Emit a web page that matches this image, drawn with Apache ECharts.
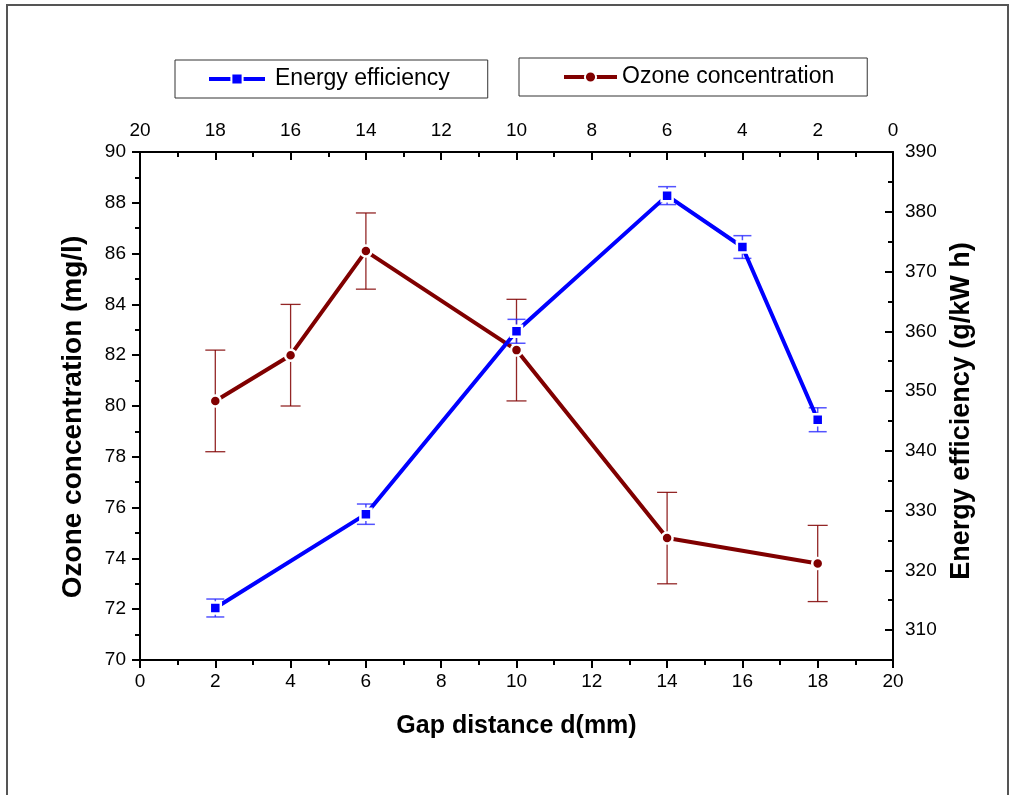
<!DOCTYPE html>
<html>
<head>
<meta charset="utf-8">
<title>Ozone concentration and energy efficiency vs gap distance</title>
<script src="https://cdn.jsdelivr.net/npm/echarts@6/dist/echarts.min.js"></script>
<style>
  html, body { margin: 0; padding: 0; background: #ffffff; }
  #chart { width: 1011px; height: 795px; }
</style>
</head>
<body>
<div id="chart"></div>
<script>
// Ozone concentration (mg/l), left axis
const ozoneGap = [2, 4, 6, 10, 14, 18];
const ozoneValues = [80.2, 82.0, 86.1, 82.2, 74.8, 73.8];
const ozoneErrors = [2.0, 2.0, 1.5, 2.0, 1.8, 1.5];

// Energy efficiency (g/kW h), right axis
const effGap = [2, 6, 10, 14, 16, 18];
const effValues = [313.7, 329.4, 360.0, 382.7, 374.1, 345.2];
const effErrors = [1.5, 1.7, 2.0, 1.5, 1.9, 2.0];

// Axis ranges and tick values
const gapTicks = [0, 20, 2];
const ozoneRange = [70, 90, 2];
const effRange = [305, 390];
const effMajorTicks = [310, 320, 330, 340, 350, 360, 370, 380, 390];
const effMinorTicks = [315, 325, 335, 345, 355, 365, 375, 385];

const FONT = '"Liberation Sans", Arial, Helvetica, sans-serif';
const BLUE = '#0000ff';
const RED = '#800000';

const pairs = (xs, ys) => xs.map((x, i) => [x, ys[i]]);
const bars = (xs, ys, es) => xs.map((x, i) => [x, ys[i] - es[i], ys[i] + es[i]]);

function errorBarRenderer(color, width, capHalf) {
  return function (params, api) {
    const x = api.value(0);
    const lo = api.coord([x, api.value(1)]);
    const hi = api.coord([x, api.value(2)]);
    const style = { stroke: color, lineWidth: width };
    return {
      type: 'group',
      children: [
        { type: 'line', shape: { x1: lo[0], y1: lo[1], x2: hi[0], y2: hi[1] }, style },
        { type: 'line', shape: { x1: lo[0] - capHalf, y1: lo[1], x2: lo[0] + capHalf, y2: lo[1] }, style },
        { type: 'line', shape: { x1: hi[0] - capHalf, y1: hi[1], x2: hi[0] + capHalf, y2: hi[1] }, style }
      ]
    };
  };
}

const axisLineStyle = { lineStyle: { color: '#000', width: 2 } };
const labelStyle = { color: '#000', fontSize: 19, fontFamily: FONT };
const nameStyle = { color: '#000', fontSize: 25, fontWeight: 'bold', fontFamily: FONT };
const legendText = { fontSize: 23, color: '#000', fontFamily: FONT, lineHeight: 26 };

const chart = echarts.init(document.getElementById('chart'), null, { renderer: 'canvas' });

chart.setOption({
  backgroundColor: '#ffffff',
  animation: false,
  textStyle: { fontFamily: FONT },
  grid: { left: 140, right: 118, top: 152, bottom: 135 },
  graphic: [
    {
      type: 'rect',
      shape: { x: 7, y: 5, width: 1001, height: 810 },
      style: { fill: 'none', stroke: '#555', lineWidth: 2 },
      z: -10
    }
  ],
  legend: [
    {
      data: ['Energy efficiency'],
      left: 175, top: 60,
      padding: [6, 38, 6, 32],
      borderColor: '#333', borderWidth: 1,
      itemWidth: 56, itemHeight: 14,
      lineStyle: { width: 4 },
      selectedMode: false,
      textStyle: Object.assign({ padding: [0, 0, 0, 5] }, legendText)
    },
    {
      data: ['Ozone concentration'],
      left: 519, top: 58,
      padding: [6, 33, 6, 43],
      borderColor: '#333', borderWidth: 1,
      itemWidth: 53, itemHeight: 14,
      lineStyle: { width: 4 },
      selectedMode: false,
      textStyle: Object.assign({ padding: [0, 0, 0, 0] }, legendText)
    }
  ],
  xAxis: [
    {
      type: 'value', position: 'bottom',
      min: gapTicks[0], max: gapTicks[1], interval: gapTicks[2],
      name: 'Gap distance d(mm)', nameLocation: 'middle', nameGap: 54,
      nameTextStyle: nameStyle,
      axisLine: axisLineStyle,
      axisTick: { show: true, inside: false, length: 8, lineStyle: { color: '#000', width: 2 } },
      minorTick: { show: true, splitNumber: 2, length: 5, lineStyle: { color: '#000', width: 2 } },
      axisLabel: Object.assign({ margin: 12 }, labelStyle),
      splitLine: { show: false }
    },
    {
      type: 'value', position: 'top', inverse: true,
      min: gapTicks[0], max: gapTicks[1], interval: gapTicks[2],
      axisLine: axisLineStyle,
      axisTick: { show: true, inside: true, length: 8, lineStyle: { color: '#000', width: 2 } },
      minorTick: { show: true, splitNumber: 2, length: 5, lineStyle: { color: '#000', width: 2 } },
      axisLabel: Object.assign({ margin: 12 }, labelStyle),
      splitLine: { show: false }
    }
  ],
  yAxis: [
    {
      type: 'value', position: 'left',
      min: ozoneRange[0], max: ozoneRange[1], interval: ozoneRange[2],
      name: 'Ozone concentration (mg/l)', nameLocation: 'middle', nameGap: 53, nameRotate: 90,
      nameTextStyle: { color: '#000', fontSize: 28, fontWeight: 'bold', fontFamily: FONT, padding: [0, 22, 0, 0] },
      axisLine: axisLineStyle,
      axisTick: { show: true, inside: false, length: 8, lineStyle: { color: '#000', width: 2 } },
      minorTick: { show: true, splitNumber: 2, length: 5, lineStyle: { color: '#000', width: 2 } },
      axisLabel: Object.assign({ margin: 14 }, labelStyle),
      splitLine: { show: false }
    },
    {
      type: 'value', position: 'right',
      min: effRange[0], max: effRange[1],
      name: 'Energy efficiency (g/kW h)', nameLocation: 'middle', nameGap: 52, nameRotate: 90,
      nameTextStyle: { color: '#000', fontSize: 27, fontWeight: 'bold', fontFamily: FONT, padding: [0, 10, 0, 0] },
      axisLine: axisLineStyle,
      axisTick: { show: true, inside: true, length: 8, customValues: effMajorTicks, lineStyle: { color: '#000', width: 2 } },
      axisLabel: Object.assign({ margin: 12, customValues: effMajorTicks }, labelStyle),
      splitLine: { show: false }
    },
    {
      type: 'value', position: 'right',
      min: effRange[0], max: effRange[1],
      axisLine: { show: false },
      axisTick: { show: true, inside: true, length: 5, customValues: effMinorTicks, lineStyle: { color: '#000', width: 2 } },
      axisLabel: { show: false },
      splitLine: { show: false }
    }
  ],
  series: [
    {
      name: 'Ozone concentration error',
      type: 'custom',
      xAxisIndex: 0, yAxisIndex: 0,
      renderItem: errorBarRenderer('rgba(128,0,0,0.85)', 1.3, 10),
      data: bars(ozoneGap, ozoneValues, ozoneErrors),
      z: 2, silent: true
    },
    {
      name: 'Ozone concentration',
      type: 'line',
      xAxisIndex: 0, yAxisIndex: 0,
      data: pairs(ozoneGap, ozoneValues),
      symbol: 'circle', symbolSize: 11,
      lineStyle: { color: RED, width: 4 },
      itemStyle: { color: RED, borderColor: '#fff', borderWidth: 2.5 },
      z: 3
    },
    {
      name: 'Energy efficiency error',
      type: 'custom',
      xAxisIndex: 0, yAxisIndex: 1,
      renderItem: errorBarRenderer('rgba(40,40,255,0.8)', 1.5, 9),
      data: bars(effGap, effValues, effErrors),
      z: 4, silent: true
    },
    {
      name: 'Energy efficiency',
      type: 'line',
      xAxisIndex: 0, yAxisIndex: 1,
      data: pairs(effGap, effValues),
      symbol: 'rect', symbolSize: 11,
      lineStyle: { color: BLUE, width: 4 },
      itemStyle: { color: BLUE, borderColor: '#fff', borderWidth: 2.5 },
      z: 5
    }
  ]
});
</script>
</body>
</html>
